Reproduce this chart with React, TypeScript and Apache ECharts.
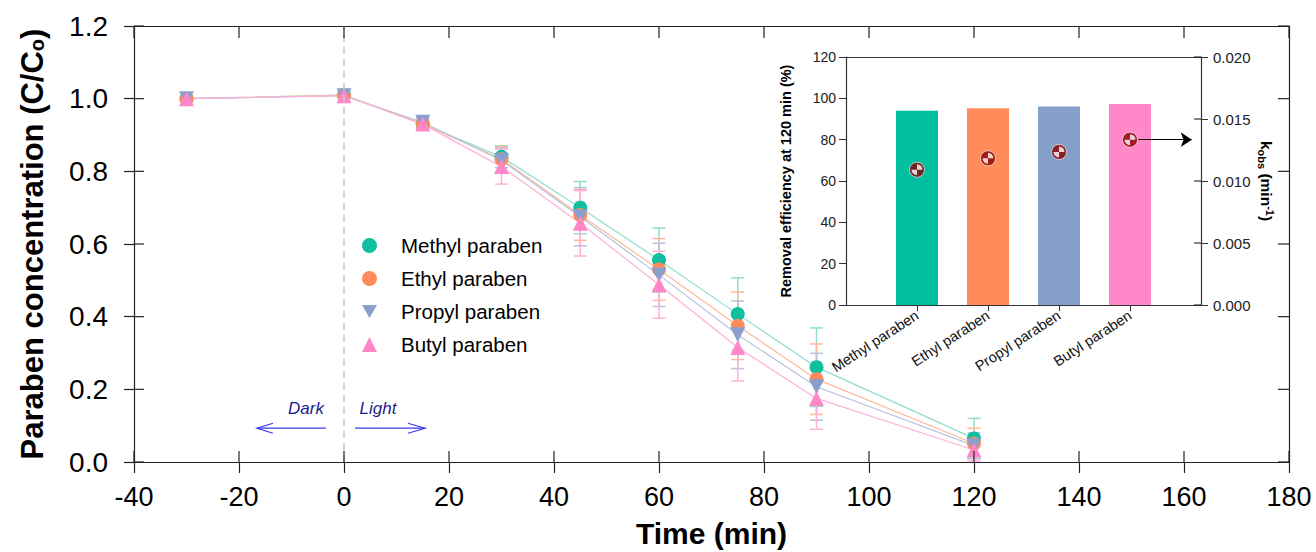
import React, { useEffect, useRef } from "react";
import * as echarts from "echarts";

const times = [-30, 0, 15, 30, 45, 60, 75, 90, 120];
const seriesNames = ["Methyl paraben", "Ethyl paraben", "Propyl paraben", "Butyl paraben"];
const methyl = [1.0, 1.01, 0.93, 0.84, 0.7, 0.556, 0.407, 0.261, 0.065];
const ethyl = [1.0, 1.01, 0.93, 0.834, 0.68, 0.53, 0.375, 0.228, 0.051];
const propyl = [1.0, 1.008, 0.935, 0.83, 0.675, 0.515, 0.35, 0.207, 0.045];
const butyl = [1.0, 1.008, 0.93, 0.813, 0.657, 0.488, 0.315, 0.175, 0.033];
const methylErr = [0.004, 0.004, 0.012, 0.03, 0.072, 0.088, 0.1, 0.108, 0.055];
const ethylErr = [0.004, 0.004, 0.012, 0.035, 0.07, 0.085, 0.093, 0.097, 0.042];
const propylErr = [0.004, 0.004, 0.012, 0.035, 0.08, 0.087, 0.093, 0.092, 0.035];
const butylErr = [0.004, 0.004, 0.015, 0.048, 0.09, 0.092, 0.092, 0.085, 0.03];

const xTicks = [-40, -20, 0, 20, 40, 60, 80, 100, 120, 140, 160, 180];
const yTicks = [0, 0.2, 0.4, 0.6, 0.8, 1.0, 1.2];

const insetCategories = ["Methyl paraben", "Ethyl paraben", "Propyl paraben", "Butyl paraben"];
const removalEfficiency = [94, 95.2, 96, 97.2];
const kobs = [0.01091, 0.01183, 0.01234, 0.01333];
const kobsTicks = [0, 0.005, 0.01, 0.015, 0.02];

const markerColors = ["#10BF9E", "#FF8A5B", "#8AA0CC", "#FF87C7"];
const lineColors = ["#8FDDCA", "#FFB898", "#B5C2E0", "#FFB0D9"];
const barColors = ["#00BFA0", "#FF8C5A", "#849FC8", "#FF88C8"];
const downTri = "path://M0,0L10,0L5,8.66Z";
const symbols = ["circle", "circle", downTri, "triangle"];

const FONT = "Liberation Sans, Arial, sans-serif";

export default function App() {
  const ref = useRef<HTMLDivElement>(null);
  useEffect(() => {
    if (!ref.current) return;
    const chart = echarts.init(ref.current, null, { renderer: "svg" });
    const values = [methyl, ethyl, propyl, butyl];
    const errs = [methylErr, ethylErr, propylErr, butylErr];

    const lineSeries = values.map((vals, i) => ({
      name: seriesNames[i],
      type: "line",
      xAxisIndex: 0,
      yAxisIndex: 0,
      data: times.map((t, j) => [t, vals[j]]),
      symbol: symbols[i],
      symbolSize: i >= 2 ? 15 : 14,
      itemStyle: { color: markerColors[i] },
      lineStyle: { color: lineColors[i], width: 1.2 },
      z: 4,
      markLine:
        i === 0
          ? {
              silent: true,
              symbol: "none",
              label: { show: false },
              lineStyle: { color: "#C8C8C8", type: [7, 5], width: 1.5 },
              data: [{ xAxis: 0 }],
            }
          : undefined,
    }));

    const errSeries = values.map((vals, i) => ({
      name: seriesNames[i] + " err",
      type: "custom",
      xAxisIndex: 0,
      yAxisIndex: 0,
      z: 3,
      data: times.map((t, j) => [t, vals[j] - errs[i][j], vals[j] + errs[i][j]]),
      encode: { x: 0, y: [1, 2] },
      renderItem: (params: any, api: any) => {
        const x = api.value(0);
        const lo = api.coord([x, api.value(1)]);
        const hi = api.coord([x, api.value(2)]);
        const w = 6.5;
        const st = { stroke: lineColors[i], lineWidth: 1.5 };
        return {
          type: "group",
          children: [
            { type: "line", shape: { x1: lo[0], y1: lo[1], x2: hi[0], y2: hi[1] }, style: st },
            { type: "line", shape: { x1: lo[0] - w, y1: lo[1], x2: lo[0] + w, y2: lo[1] }, style: st },
            { type: "line", shape: { x1: hi[0] - w, y1: hi[1], x2: hi[0] + w, y2: hi[1] }, style: st },
          ],
        };
      },
    }));

    const axisLine = { show: true, onZero: false, lineStyle: { color: "#222", width: 1.2 } };
    const insetLine = { show: true, onZero: false, lineStyle: { color: "#333", width: 1.2 } };
    const tickStyle = { color: "#222", width: 1.2 };

    const option: any = {
      animation: false,
      textStyle: { fontFamily: FONT },
      grid: [
        { left: 134, top: 26, width: 1155, height: 436, containLabel: false, outerBoundsMode: "none" },
        { left: 846, top: 57, width: 355, height: 248, containLabel: false, outerBoundsMode: "none" },
      ],
      legend: {
        orient: "vertical",
        left: 357,
        top: 230,
        itemGap: 12,
        itemWidth: 15,
        itemHeight: 15,
        textStyle: { fontSize: 20.5, color: "#000", fontFamily: FONT, padding: [0, 0, 0, 19] },
        data: seriesNames.map((n, i) => ({ name: n, icon: symbols[i] })),
      },
      xAxis: [
        {
          gridIndex: 0,
          type: "value",
          position: "bottom",
          min: -40,
          max: 180,
          interval: 20,
          axisLine,
          axisTick: { show: true, length: 11, lineStyle: tickStyle },
          axisLabel: { fontSize: 27, color: "#000", margin: 21, fontFamily: FONT },
          splitLine: { show: false },
          name: "Time (min)",
          nameLocation: "middle",
          nameGap: 56,
          nameTextStyle: { fontSize: 30, fontWeight: "bold", color: "#000", fontFamily: FONT },
        },
        {
          gridIndex: 0,
          type: "value",
          position: "top",
          min: -40,
          max: 180,
          interval: 20,
          axisLine,
          axisTick: { show: false },
          axisLabel: { show: false },
          splitLine: { show: false },
        },
        {
          gridIndex: 1,
          type: "value",
          position: "bottom",
          min: 0,
          max: 5,
          interval: 1,
          axisLine: insetLine,
          axisTick: { show: true, length: 6, customValues: [1, 2, 3, 4], lineStyle: { color: "#333" } },
          axisLabel: {
            customValues: [1, 2, 3, 4],
            rotate: 33,
            fontSize: 14.5,
            color: "#111",
            margin: 9,
            fontFamily: FONT,
            formatter: (v: number) => insetCategories[Math.round(v) - 1] || "",
          },
          splitLine: { show: false },
        },
        {
          gridIndex: 1,
          type: "value",
          position: "top",
          min: 0,
          max: 5,
          axisLine: insetLine,
          axisTick: { show: false },
          axisLabel: { show: false },
          splitLine: { show: false },
        },
      ],
      yAxis: [
        {
          gridIndex: 0,
          type: "value",
          position: "left",
          min: 0,
          max: 1.2,
          interval: 0.2,
          axisLine,
          axisTick: { show: true, length: 10, lineStyle: tickStyle },
          axisLabel: {
            fontSize: 28,
            color: "#000",
            margin: 26,
            fontFamily: FONT,
            formatter: (v: number) => v.toFixed(1),
          },
          splitLine: { show: false },
          name: "{b|Paraben concentration (C/C}{s|o}{b|)}",
          nameLocation: "middle",
          nameGap: 84,
          nameTextStyle: {
            rich: {
              b: { fontSize: 31, fontWeight: "bold", color: "#000", fontFamily: FONT, lineHeight: 36 },
              s: { fontSize: 20, fontWeight: "bold", color: "#000", fontFamily: FONT, lineHeight: 36, padding: [10, 0, 0, 0] },
            },
          },
        },
        {
          gridIndex: 0,
          type: "value",
          position: "right",
          min: 0,
          max: 1.2,
          interval: 0.2,
          axisLine,
          axisTick: { show: false },
          axisLabel: { show: false },
          splitLine: { show: false },
        },
        {
          gridIndex: 1,
          type: "value",
          position: "left",
          min: 0,
          max: 120,
          interval: 20,
          axisLine: insetLine,
          axisTick: { show: true, length: 7, lineStyle: { color: "#333" } },
          axisLabel: { fontSize: 14, color: "#222", margin: 10, fontFamily: FONT },
          splitLine: { show: false },
          name: "Removal efficiency at 120 min (%)",
          nameLocation: "middle",
          nameGap: 53,
          nameTextStyle: { fontSize: 14.5, fontWeight: "bold", color: "#000", fontFamily: FONT },
        },
        {
          gridIndex: 1,
          type: "value",
          position: "right",
          min: 0,
          max: 0.02,
          interval: 0.005,
          axisLine: insetLine,
          axisTick: { show: true, length: 7, lineStyle: { color: "#333" } },
          axisLabel: {
            fontSize: 15,
            color: "#222",
            margin: 12,
            fontFamily: FONT,
            formatter: (v: number) => v.toFixed(3),
          },
          splitLine: { show: false },
          name: "{b|k}{s|obs}{b| (min}{p|-1}{b|)}",
          nameLocation: "middle",
          nameRotate: -90,
          nameGap: 54,
          nameTextStyle: {
            rich: {
              b: { fontSize: 15.5, fontWeight: "bold", color: "#000", fontFamily: FONT, lineHeight: 22 },
              s: { fontSize: 11, fontWeight: "bold", color: "#000", fontFamily: FONT, lineHeight: 22, padding: [8, 0, 0, 0] },
              p: { fontSize: 11, fontWeight: "bold", color: "#000", fontFamily: FONT, lineHeight: 22, padding: [0, 0, 8, 0] },
            },
          },
        },
      ],
      series: [
        ...errSeries,
        ...lineSeries,
        {
          name: "Removal efficiency",
          type: "bar",
          xAxisIndex: 2,
          yAxisIndex: 2,
          barWidth: 42,
          data: removalEfficiency.map((v, i) => ({ value: [i + 1, v], itemStyle: { color: barColors[i] } })),
          z: 2,
        },
        {
          name: "kobs",
          type: "scatter",
          xAxisIndex: 2,
          yAxisIndex: 3,
          symbol: "circle",
          symbolSize: 15,
          itemStyle: { color: "#8B0000", borderColor: "#fff", borderWidth: 0.8 },
          data: kobs.map((v, i) => [i + 1, v]),
          z: 5,
          markLine: {
            silent: true,
            symbol: ["none", "arrow"],
            symbolSize: 11,
            label: { show: false },
            lineStyle: { color: "#000", width: 1, type: "solid" },
            data: [[{ coord: [4.12, kobs[3]] }, { coord: [4.87, kobs[3]] }]],
          },
        },
        {
          name: "kobs quadrants",
          type: "scatter",
          xAxisIndex: 2,
          yAxisIndex: 3,
          symbol: "path://M5,5L10,5A5,5 0 0 0 5,0ZM5,5L0,5A5,5 0 0 0 5,10Z",
          symbolSize: 11,
          itemStyle: { color: "#fff" },
          data: kobs.map((v, i) => [i + 1, v]),
          z: 6,
        },
      ],
    };
    chart.setOption(option);

    // frame ticks that cross or point inward, placed through the axes' own scales
    const px = (v: number) => chart.convertToPixel({ xAxisIndex: 0 }, v) as number;
    const py = (v: number) => chart.convertToPixel({ yAxisIndex: 0 }, v) as number;
    const xL = px(-40), xR = px(180), yB = py(0), yT = py(1.2);
    const tick = (x1: number, y1: number, x2: number, y2: number, color = "#222") => ({
      type: "line",
      silent: true,
      z: 10,
      shape: { x1, y1, x2, y2 },
      style: { stroke: color, lineWidth: 1.2 },
    });
    const frameTicks: any[] = [];
    xTicks.forEach((v) => {
      const x = px(v);
      frameTicks.push(tick(x, yB, x, yB - 11));
      frameTicks.push(tick(x, yT, x, yT + 12));
    });
    yTicks.forEach((v) => {
      const y = py(v);
      frameTicks.push(tick(xL, y, xL + 10, y));
      frameTicks.push(tick(xR, y, xR - 11, y));
    });
    const insetRight = chart.convertToPixel({ xAxisIndex: 2 }, 5) as number;
    kobsTicks.forEach((v) => {
      const y = chart.convertToPixel({ yAxisIndex: 3 }, v) as number;
      frameTicks.push(tick(insetRight, y, insetRight - 7, y, "#333"));
    });

    const xZero = px(0);
    const annY = py(0.093);
    const textY = py(0.148);
    const arrow = "#3A3AF0";
    chart.setOption({
      graphic: [
        ...frameTicks,
        {
          type: "text",
          style: { text: "Dark", x: xZero - 38, y: textY, align: "center", verticalAlign: "middle", fontSize: 17, fontStyle: "italic", fontFamily: FONT, fill: "#1C1C8E" },
        },
        {
          type: "text",
          style: { text: "Light", x: xZero + 34, y: textY, align: "center", verticalAlign: "middle", fontSize: 17, fontStyle: "italic", fontFamily: FONT, fill: "#1C1C8E" },
        },
        { type: "line", shape: { x1: xZero - 18, y1: annY, x2: xZero - 87, y2: annY }, style: { stroke: arrow, lineWidth: 1.2 } },
        { type: "polyline", shape: { points: [[xZero - 71, annY - 5], [xZero - 87, annY], [xZero - 71, annY + 5]] }, style: { stroke: arrow, lineWidth: 1.2, fill: "none" } },
        { type: "line", shape: { x1: xZero + 11, y1: annY, x2: xZero + 81, y2: annY }, style: { stroke: arrow, lineWidth: 1.2 } },
        { type: "polyline", shape: { points: [[xZero + 64, annY - 5], [xZero + 81, annY], [xZero + 64, annY + 5]] }, style: { stroke: arrow, lineWidth: 1.2, fill: "none" } },
      ],
    });
    return () => chart.dispose();
  }, []);
  return <div ref={ref} style={{ position: "absolute", left: 0, top: 0, width: 1316, height: 552, background: "#fff" }} />;
}
